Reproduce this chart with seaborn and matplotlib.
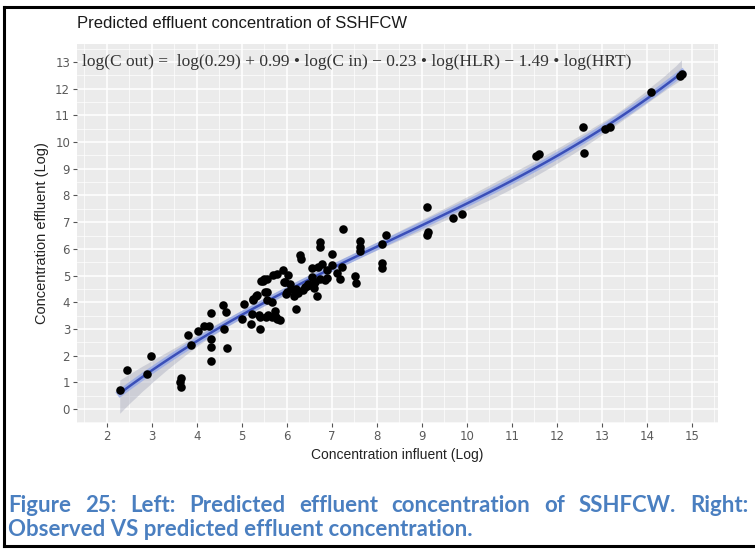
import numpy as np
import pandas as pd
import matplotlib
matplotlib.use("Agg")
import matplotlib.pyplot as plt
import seaborn as sns
from matplotlib.lines import Line2D

# ---- data ----
conc_influent = [
    2.30, 2.44, 2.90, 2.99, 3.64, 3.62, 3.64,
    3.80, 3.87, 4.02, 4.16, 4.27, 4.31, 4.31, 4.31, 4.31,
    4.59, 4.64, 4.61, 4.67,
    5.00, 5.05, 5.20, 5.22, 5.26, 5.33, 5.41, 5.38, 5.41, 5.42, 5.50, 5.52,
    5.56, 5.59, 5.67, 5.70, 5.74, 5.77, 5.78, 5.91, 5.94, 5.98, 6.03, 6.07,
    6.15, 6.21, 6.24, 6.30, 6.31, 6.41, 6.48, 6.53, 6.57, 6.55, 6.67, 6.70,
    6.74, 6.78, 6.85, 6.90, 6.89, 7.00, 7.01, 7.11, 7.18, 7.22, 7.52, 7.54,
    7.63, 8.11, 8.11,
    7.26, 6.74, 6.74, 7.63, 7.63, 8.21, 8.12,
    5.25, 5.31, 5.48, 5.57, 5.55, 5.53, 5.67, 5.78, 5.85, 5.96,
    6.35, 6.45, 6.60, 6.62, 6.20, 6.00, 6.10,
    9.11, 9.11, 9.13, 9.70, 9.90, 11.53, 11.60, 12.59, 12.60, 13.07, 13.17,
    14.09, 14.74, 14.78,
]
conc_effluent = [
    0.73, 1.46, 1.33, 1.98, 1.17, 1.00, 0.83,
    2.76, 2.39, 2.91, 3.13, 3.10, 3.59, 2.64, 2.33, 1.79,
    3.88, 3.63, 3.01, 2.30,
    3.38, 3.92, 3.17, 3.57, 4.13, 4.29, 3.01, 3.51, 3.45, 4.78, 4.88, 4.38,
    4.07, 3.53, 4.00, 5.02, 3.69, 3.44, 3.36, 5.20, 4.75, 4.31, 5.03, 4.69,
    4.22, 3.76, 4.34, 5.78, 5.62, 4.57, 4.70, 4.66, 4.94, 5.28, 4.25, 5.33,
    4.87, 5.44, 4.85, 4.90, 5.19, 5.81, 5.41, 5.09, 4.88, 5.31, 5.00, 4.71,
    5.91, 5.46, 5.29,
    6.74, 6.24, 6.06, 6.28, 6.06, 6.53, 6.18,
    4.07, 4.25, 4.81, 4.87, 4.38, 3.44, 3.44, 5.06, 3.35, 4.75,
    4.45, 4.60, 4.55, 4.75, 4.50, 4.40, 4.50,
    7.55, 6.53, 6.62, 7.14, 7.30, 9.49, 9.56, 10.56, 9.58, 10.50, 10.56,
    11.87, 12.46, 12.53,
]
x_ticks = list(range(2, 16))
y_ticks = list(range(0, 14))

title = "Predicted effluent concentration of SSHFCW"
equation = ("log(C out) =  log(0.29) + 0.99 \u2022 log(C in) \u2212 0.23 \u2022 log(HLR)"
            " \u2212 1.49 \u2022 log(HRT)")
x_label = "Concentration influent (Log)"
y_label = "Concentration effluent (Log)"
caption1 = "Figure 25: Left: Predicted effluent concentration of SSHFCW. Right:"
caption2 = "Observed VS predicted effluent concentration."

df = pd.DataFrame({"cin": conc_influent, "cout": conc_effluent})

# ---- figure ----
W, H = 755, 549
fig = plt.figure(figsize=(W / 100, H / 100), dpi=100)
L, R, T, B = 77, 718, 44, 423
ax = fig.add_axes([L / W, 1 - B / H, (R - L) / W, (B - T) / H])
ax.set_facecolor("#EBEBEB")
for s in ax.spines.values():
    s.set_visible(False)

ax.set_xlim(1.34, 15.58)
ax.set_ylim(-0.52, 13.67)
ax.set_xticks(x_ticks)
ax.set_yticks(y_ticks)
ax.set_xticks(np.arange(1.5, 15.6, 1.0), minor=True)
ax.set_yticks(np.arange(-0.5, 13.6, 1.0), minor=True)
ax.grid(which="major", color="white", linewidth=1.1)
ax.grid(which="minor", color="white", linewidth=0.5)
ax.set_axisbelow(True)
ax.tick_params(which="major", length=3, width=0.8, color="#555555",
               labelcolor="#5a5a5a", labelsize=8.5, pad=2)
ax.tick_params(which="minor", length=0)

# regression band (grey) and fitted line (blue)
sns.regplot(data=df, x="cin", y="cout", order=3, ci=95, seed=0, scatter=False,
            color="#a0a4b8", line_kws={"alpha": 0}, ax=ax, truncate=True)
for c in ax.collections:
    c.set_alpha(0.4)
sns.regplot(data=df, x="cin", y="cout", order=3, ci=None, scatter=False,
            color="#8ea2e8", line_kws={"linewidth": 5, "alpha": 0.7}, ax=ax)
sns.regplot(data=df, x="cin", y="cout", order=3, ci=None, scatter=False,
            color="#3a4fb8", line_kws={"linewidth": 1.8}, ax=ax)
sns.scatterplot(data=df, x="cin", y="cout", color="black", s=38,
                edgecolor="black", linewidth=0, ax=ax, zorder=5)

ax.set_xlabel(x_label, fontsize=10, family="Liberation Sans", color="#222222",
              labelpad=4)
ax.set_ylabel(y_label, fontsize=10.5, family="Liberation Sans", color="#222222",
              labelpad=4)

ax.text(1.45, 13.0, equation, fontsize=12.5, family="Liberation Serif",
        color="#333333", va="center", ha="left", zorder=6)

fig.text(L / W, 1 - 23 / H, title, fontsize=12, family="Liberation Sans",
         color="#1a1a1a", va="center", ha="left")

# caption (justified first line)
cap_color = "#4a7fc0"
cap_font = dict(fontsize=16, family="Lato", fontweight="bold", color=cap_color)
words = caption1.split()
texts = [fig.text(0, 1 - 505 / H, w, va="center", ha="left", **cap_font) for w in words]
fig.canvas.draw()
rend = fig.canvas.get_renderer()
widths = [t.get_window_extent(rend).width for t in texts]
x0, x1 = 8, 748
gap = (x1 - x0 - sum(widths)) / (len(words) - 1)
xp = x0
for t, w in zip(texts, widths):
    t.set_x(xp / W)
    xp += w + gap
fig.text(x0 / W, 1 - 530 / H, caption2, va="center", ha="left", **cap_font)

# black frame lines (left, top, bottom)
fig.add_artist(Line2D([4 / W, 4 / W], [1 - 7 / H, 1 - 546 / H], color="black",
                      linewidth=2.2, transform=fig.transFigure))
fig.add_artist(Line2D([4 / W, 1], [1 - 7 / H, 1 - 7 / H], color="black",
                      linewidth=2.2, transform=fig.transFigure))
fig.add_artist(Line2D([4 / W, 1], [1 - 546 / H, 1 - 546 / H], color="black",
                      linewidth=2.2, transform=fig.transFigure))

fig.savefig("out.png", dpi=100)
